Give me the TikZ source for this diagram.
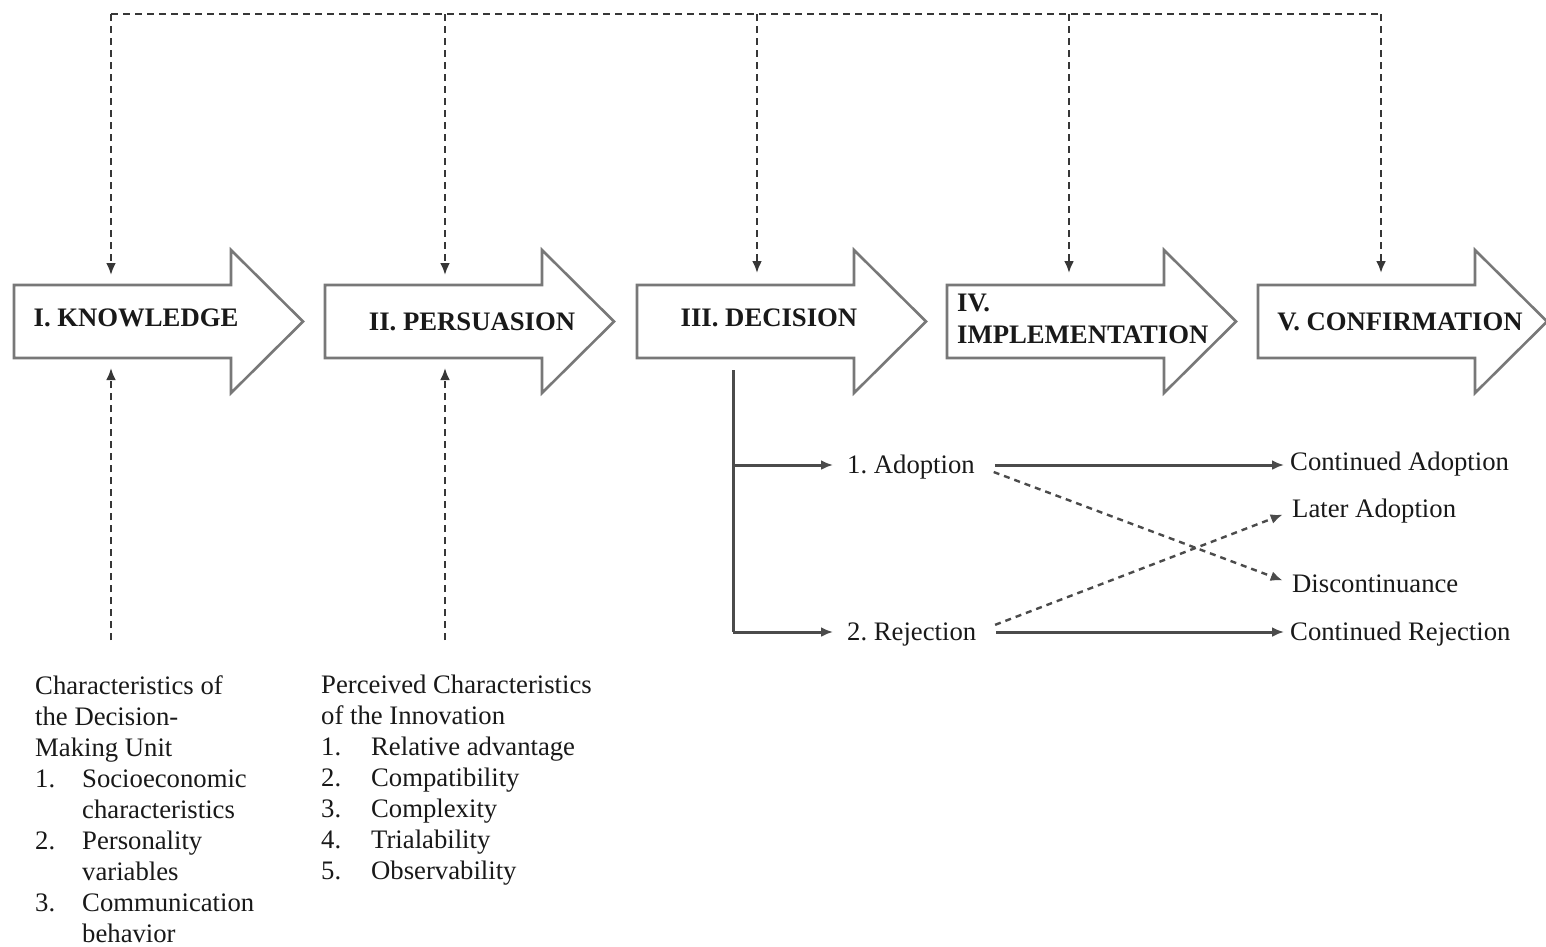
\documentclass[tikz,border=0pt]{standalone}
\usepackage{fontspec}
\setmainfont{Liberation Serif}
\usetikzlibrary{arrows.meta}
\definecolor{arrowgray}{RGB}{120,120,120}
\definecolor{linegray}{RGB}{75,75,75}
\definecolor{dashgray}{RGB}{55,55,55}
\definecolor{textdark}{RGB}{25,25,25}
\begin{document}
\frenchspacing
\begin{tikzpicture}[x=1pt,y=-1pt,
  stagearrow/.style={draw=arrowgray, line width=2.6pt, fill=white, line join=miter},
  stagelabel/.style={font=\fontsize{26.7}{32}\selectfont\bfseries, inner sep=0pt, text=textdark},
  optext/.style={font=\fontsize{26.7}{31}\selectfont, inner sep=0pt, text=textdark},
  tip/.style={-{Latex[length=12pt,width=10pt]}},
  flowline/.style={draw=linegray, line width=3pt},
  flow/.style={flowline, tip},
  feedback/.style={draw=dashgray, line width=2.6pt, dash pattern=on 7pt off 5pt},
  crossdash/.style={draw=linegray, line width=2.4pt, dash pattern=on 6pt off 5pt, tip}]
\useasboundingbox (0,0) rectangle (1546,946);
\fill[white] (0,0) rectangle (1546,946);

% stage arrows
\foreach \x in {14,325,637,947,1258}{
  \draw[stagearrow] (\x,285) -- ++(217,0) -- ++(0,-35) -- ++(72,71.5) -- ++(-72,71.5)
    -- ++(0,-35) -- ++(-217,0) -- cycle;
}

\node[stagelabel] (know) at (136,318) {I. KNOWLEDGE};
\node[stagelabel] (pers) at (472,322) {II. PERSUASION};
\node[stagelabel] (deci) at (769,318) {III. DECISION};
\node[stagelabel, align=left, anchor=west] (impl) at (957,319) {IV.\\IMPLEMENTATION};
\node[stagelabel] (conf) at (1400,322) {V. CONFIRMATION};

% feedback loop on top
\coordinate (f1) at (111,14);
\coordinate (f2) at (445,14);
\coordinate (f3) at (757,14);
\coordinate (f4) at (1069,14);
\coordinate (f5) at (1381,14);
\coordinate (s1) at (111,275);
\coordinate (s2) at (445,275);
\coordinate (s3) at (757,273);
\coordinate (s4) at (1069,273);
\coordinate (s5) at (1381,273);
\draw[feedback] (f1) -- (f5);
\foreach \i in {1,...,5}{
  \draw[feedback, tip] (f\i) -- (s\i);
}

% influences from below
\coordinate (b1) at (111,640);
\coordinate (b2) at (445,640);
\coordinate (u1) at (111,368);
\coordinate (u2) at (445,368);
\draw[feedback, tip] (b1) -- (u1);
\draw[feedback, tip] (b2) -- (u2);

% decision outcomes
\node[optext, anchor=west] (adopt) at (847,467) {1. Adoption};
\node[optext, anchor=west] (reject) at (847,634) {2. Rejection};
\node[optext, anchor=west] (contA) at (1290,464) {Continued Adoption};
\node[optext, anchor=west] (later) at (1292,511) {Later Adoption};
\node[optext, anchor=west] (disc) at (1292,584) {Discontinuance};
\node[optext, anchor=west] (contR) at (1290,634) {Continued Rejection};

\coordinate (dtop) at (733,370);
\coordinate (dmid) at (733,465);
\coordinate (dbot) at (733,632);
\draw[flowline] (dtop) -- (dbot);
\draw[flow, shorten >=14pt] (dmid) -- (dmid -| adopt.west);
\draw[flow, shorten >=14pt] (dbot) -- (dbot -| reject.west);
\draw[flow, shorten <=20pt, shorten >=6pt] (adopt.east |- dmid) -- (dmid -| contA.west);
\draw[flow, shorten <=20pt, shorten >=6pt] (reject.east |- dbot) -- (dbot -| contR.west);
\draw[crossdash, shorten <=20pt, shorten >=10pt] (adopt.east |- dmid) -- (disc.west);
\draw[crossdash, shorten <=20pt, shorten >=10pt] (reject.east |- dbot) -- (later.west);

% characteristics lists
\node[optext, align=left, anchor=north west] (unit) at (35,675) {Characteristics of\\the Decision-\\Making Unit\\
\makebox[47pt][l]{1.}Socioeconomic\\\hspace*{47pt}characteristics\\
\makebox[47pt][l]{2.}Personality\\\hspace*{47pt}variables\\
\makebox[47pt][l]{3.}Communication\\\hspace*{47pt}behavior};
\node[optext, align=left, anchor=north west] (innov) at (321,675) {Perceived Characteristics\\of the Innovation\\
\makebox[50pt][l]{1.}Relative advantage\\
\makebox[50pt][l]{2.}Compatibility\\
\makebox[50pt][l]{3.}Complexity\\
\makebox[50pt][l]{4.}Trialability\\
\makebox[50pt][l]{5.}Observability};
\end{tikzpicture}
\end{document}
